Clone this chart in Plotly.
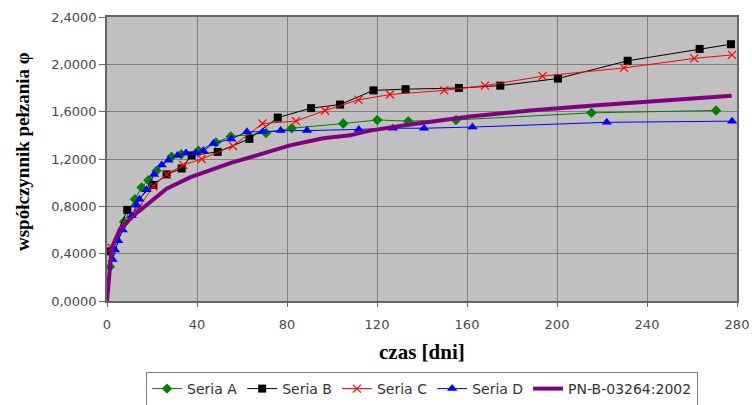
import plotly.graph_objects as go

# czas [dni] i współczynnik pełzania dla poszczególnych serii
days_a = [1.3, 7.6, 12.4, 15.4, 18.4, 22.0, 28.7, 33.0, 40.6, 48.4, 55.0, 70.7, 82.1, 105.0, 120.1, 133.9, 155.1, 215.3, 270.7]
phi_a = [0.29, 0.67, 0.86, 0.96, 1.02, 1.10, 1.22, 1.24, 1.27, 1.34, 1.39, 1.42, 1.46, 1.50, 1.53, 1.52, 1.53, 1.59, 1.61]

days_b = [1.0, 9.0, 20.6, 26.5, 33.2, 37.6, 49.2, 63.3, 75.9, 90.7, 103.6, 118.4, 132.7, 156.4, 174.8, 200.4, 231.4, 263.4, 277.3]
phi_b = [0.42, 0.77, 0.98, 1.07, 1.12, 1.23, 1.26, 1.37, 1.55, 1.63, 1.66, 1.78, 1.79, 1.80, 1.82, 1.88, 2.03, 2.13, 2.17]

days_c = [2.0, 13.9, 20.6, 26.5, 33.9, 42.1, 56.0, 69.1, 84.0, 96.9, 111.8, 125.8, 149.9, 168.0, 193.6, 229.8, 261.0, 277.8]
phi_c = [0.45, 0.79, 0.97, 1.07, 1.15, 1.20, 1.31, 1.50, 1.52, 1.61, 1.70, 1.745, 1.78, 1.82, 1.90, 1.97, 2.05, 2.08]

days_d = [2.5, 3.6, 5.0, 7.0, 11.0, 13.2, 14.4, 17.6, 20.9, 24.3, 27.3, 31.3, 35.1, 39.5, 42.8, 47.3, 55.2, 62.2, 69.3, 77.2, 88.9, 111.9, 127.0, 140.9, 162.4, 222.1, 277.8]
phi_d = [0.35, 0.43, 0.51, 0.60, 0.72, 0.81, 0.86, 0.94, 1.07, 1.15, 1.19, 1.23, 1.25, 1.25, 1.27, 1.33, 1.37, 1.43, 1.43, 1.44, 1.44, 1.45, 1.46, 1.46, 1.47, 1.51, 1.52]

days_pn = [0.0, 0.9, 2.1, 5.8, 11.7, 19.1, 26.5, 36.9, 45.8, 54.7, 66.5, 81.3, 96.1, 108.0, 116.9, 133.9, 161.3, 188.0, 214.7, 241.3, 277.6]
phi_pn = [0.0, 0.23, 0.45, 0.61, 0.72, 0.835, 0.95, 1.045, 1.105, 1.165, 1.23, 1.315, 1.375, 1.40, 1.44, 1.49, 1.56, 1.61, 1.65, 1.685, 1.735]

x_ticks = [0, 40, 80, 120, 160, 200, 240, 280]
y_ticks = [0.0, 0.4, 0.8, 1.2, 1.6, 2.0, 2.4]

label_font = dict(family="DejaVu Sans", size=13, color="#4a4a4a")

# plot area: 17 px from the top, 104 px from the bottom
PLOT_TOP, PLOT_BOTTOM, PLOT_LEFT, PLOT_W = 17, 301, 107, 630
PLOT_H = PLOT_BOTTOM - PLOT_TOP

fig = go.Figure()

fig.add_trace(go.Scatter(
    x=days_a, y=phi_a, name="Seria A", mode="lines+markers",
    line=dict(color="#008000", width=1),
    marker=dict(symbol="diamond", size=8, color="#008000"),
))
fig.add_trace(go.Scatter(
    x=days_b, y=phi_b, name="Seria B", mode="lines+markers",
    line=dict(color="#000000", width=1),
    marker=dict(symbol="square", size=8, color="#000000"),
))
fig.add_trace(go.Scatter(
    x=days_c, y=phi_c, name="Seria C", mode="lines+markers",
    line=dict(color="#FF0000", width=1),
    marker=dict(symbol="x-thin-open", size=8, color="#FF0000",
                line=dict(color="#FF0000", width=1.2)),
))
fig.add_trace(go.Scatter(
    x=days_d, y=phi_d, name="Seria D", mode="lines+markers",
    line=dict(color="#0000FF", width=1),
    marker=dict(symbol="triangle-up", size=9, color="#0000FF"),
))
fig.add_trace(go.Scatter(
    x=days_pn, y=phi_pn, name="PN-B-03264:2002", mode="lines",
    line=dict(color="#800080", width=4),
))

fig.update_layout(
    width=752, height=405,
    margin=dict(l=PLOT_LEFT, r=752 - PLOT_LEFT - PLOT_W, t=PLOT_TOP, b=405 - PLOT_BOTTOM,
                autoexpand=False),
    paper_bgcolor="white",
    plot_bgcolor="#C0C0C0",
    separators=", ",
    showlegend=True,
    legend=dict(
        orientation="h",
        x=(146 - PLOT_LEFT) / PLOT_W, y=-(372 - PLOT_BOTTOM) / PLOT_H,
        xanchor="left", yanchor="top",
        bgcolor="white", bordercolor="#808080", borderwidth=1,
        font=dict(family="DejaVu Sans", size=14, color="#333333"),
        itemwidth=30,
        tracegroupgap=0,
    ),
    annotations=[
        dict(
            text="<b>współczynnik pełzania φ</b>",
            xref="paper", yref="paper",
            x=(22 - PLOT_LEFT) / PLOT_W, y=(PLOT_BOTTOM - 152) / PLOT_H,
            xanchor="center", yanchor="middle",
            textangle=-90, showarrow=False,
            font=dict(family="Liberation Serif", size=19, color="black"),
        ),
        dict(
            text="<b>czas [dni]</b>",
            xref="paper", yref="paper",
            x=0.5, y=-(352 - PLOT_BOTTOM) / PLOT_H,
            xanchor="center", yanchor="middle",
            showarrow=False,
            font=dict(family="Liberation Serif", size=21, color="black"),
        ),
    ],
)

fig.update_xaxes(
    range=[0, 280], tickvals=x_ticks, ticktext=[str(v) for v in x_ticks],
    showgrid=True, gridcolor="#808080", gridwidth=1,
    showline=True, linecolor="#666666", linewidth=1.5, mirror=True,
    ticks="outside", ticklen=4, tickcolor="#666666",
    ticklabelstandoff=7,
    tickfont=label_font, zeroline=False,
)
fig.update_yaxes(
    range=[0, 2.4], tickvals=y_ticks, tickformat=".4f",
    showgrid=True, gridcolor="#808080", gridwidth=1,
    showline=True, linecolor="#666666", linewidth=1.5, mirror=True,
    ticks="outside", ticklen=6, tickcolor="#666666",
    tickfont=label_font, zeroline=False,
)

fig.write_html("out.html")
